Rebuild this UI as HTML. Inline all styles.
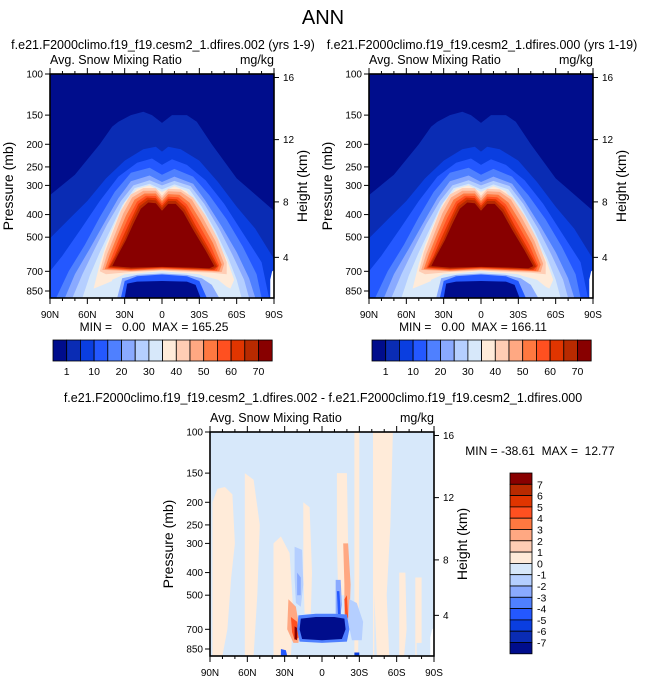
<!DOCTYPE html>
<html><head><meta charset="utf-8">
<style>
html,body{margin:0;padding:0;background:#fff;}
svg{display:block;font-family:"Liberation Sans",sans-serif;}
</style></head>
<body>
<svg id="chart" width="647" height="680" viewBox="0 0 647 680" xmlns="http://www.w3.org/2000/svg">
<text x="323" y="24" font-size="20" text-anchor="middle">ANN</text>
<text x="163" y="49" font-size="12.5" text-anchor="middle">f.e21.F2000climo.f19_f19.cesm2_1.dfires.002 (yrs 1-9)</text>
<text x="482" y="49" font-size="12.5" text-anchor="middle">f.e21.F2000climo.f19_f19.cesm2_1.dfires.000 (yrs 1-19)</text>
<text x="323" y="402" font-size="12.5" text-anchor="middle">f.e21.F2000climo.f19_f19.cesm2_1.dfires.002 - f.e21.F2000climo.f19_f19.cesm2_1.dfires.000</text>
<text x="154" y="331" font-size="12" text-anchor="middle" xml:space="preserve">MIN =   0.00  MAX = 165.25</text>
<text x="473" y="331" font-size="12" text-anchor="middle" xml:space="preserve">MIN =   0.00  MAX = 166.11</text>
<text x="540" y="455" font-size="12" text-anchor="middle" xml:space="preserve">MIN = -38.61  MAX =  12.77</text>
</svg>
<script>
// ---- data ----
const pressureTicks = [100,150,200,250,300,400,500,700,850];
const heightTicks = [16,12,8,4];
const heightTickPress = [103.5, 191, 353, 610];
const latTicks = [90,60,30,0,-30,-60,-90];
const latLabels = ["90N","60N","30N","0","30S","60S","90S"];
const absColors = ["#000d8c","#0a2cb4","#0a3ee0","#2458ff","#4f80ff","#8aaaff","#b5cfff","#d7e8fa","#ffebd9","#ffcdb4","#ffa882","#ff7840","#ff5020","#e03500","#b82a00","#880000"];
const absLabels = ["1","10","20","30","40","50","60","70"];
const diffColors = ["#880000","#b82a00","#e03500","#ff5020","#ff7840","#ffa882","#ffcdb4","#ffebd9","#d7e8fa","#b5cfff","#8aaaff","#4f80ff","#2458ff","#0a3ee0","#0a2cb4","#000d8c"];
const diffLabels = ["7","6","5","4","3","2","1","0","-1","-2","-3","-4","-5","-6","-7"];
// contour levels: [colorIndex, openToSurface, polygon of [lat,pressure]]
const absLevels = [
 [1,1,[[90,330],[70,270],[50,200],[40,168],[35,160],[25,150],[15,145],[8,150],[0,162],[-8,150],[-20,150],[-28,160],[-40,200],[-60,280],[-90,385]]],
 [2,1,[[90,505],[75,420],[60,350],[45,280],[30,235],[15,210],[5,205],[0,215],[-5,205],[-15,210],[-30,235],[-45,290],[-60,370],[-75,460],[-90,620]]],
 [3,1,[[90,700],[80,600],[65,460],[50,350],[35,275],[20,240],[8,230],[0,245],[-8,232],[-20,245],[-35,285],[-50,360],[-65,480],[-80,640],[-86,910]]],
 [4,1,[[85,910],[75,700],[62,540],[50,410],[38,320],[25,265],[10,252],[0,270],[-10,255],[-25,275],[-38,330],[-52,420],[-65,550],[-76,720],[-80,910]]],
 [5,1,[[78,910],[70,720],[58,560],[47,440],[35,340],[25,288],[10,272],[0,290],[-10,275],[-25,295],[-35,350],[-48,450],[-60,580],[-70,750],[-75,910]]],
 [6,1,[[72,910],[64,720],[54,560],[44,440],[33,350],[23,300],[10,285],[0,300],[-10,287],[-23,302],[-34,360],[-46,460],[-57,600],[-66,760],[-70,910]]],
 [7,1,[[64,910],[58,730],[50,580],[41,460],[32,365],[22,308],[10,295],[0,312],[-10,297],[-22,312],[-32,370],[-43,470],[-53,610],[-60,760],[-64,910]]],
 [8,0,[[55,830],[50,650],[45,540],[38,440],[30,355],[20,310],[10,300],[0,320],[-10,302],[-20,318],[-30,380],[-42,490],[-52,620],[-58,760],[-55,830],[-40,760],[-30,720],[-15,710],[0,700],[15,710],[30,730],[45,790]]],
 [9,0,[[50,700],[46,580],[40,480],[33,385],[25,328],[15,308],[5,308],[0,332],[-5,310],[-15,312],[-25,338],[-35,405],[-45,510],[-52,640],[-52,720],[-40,710],[-25,705],[0,695],[25,705],[45,720]]],
 [10,0,[[48,690],[44,590],[38,490],[31,395],[24,338],[15,316],[5,316],[0,340],[-5,318],[-15,320],[-24,345],[-33,415],[-43,520],[-50,650],[-48,705],[-25,698],[0,690],[25,700]]],
 [11,0,[[46,685],[42,595],[36,495],[29,405],[22,345],[14,325],[5,325],[0,350],[-5,327],[-14,329],[-22,355],[-31,425],[-41,530],[-48,655],[-46,700],[-25,693],[0,685],[25,695]]],
 [12,0,[[44,680],[40,600],[34,500],[27,412],[20,352],[13,332],[5,333],[0,358],[-5,335],[-13,337],[-20,362],[-29,435],[-39,540],[-46,660],[-44,695],[-25,688],[0,680],[25,690]]],
 [13,0,[[43,675],[38,600],[32,505],[25,420],[19,360],[12,338],[5,340],[0,366],[-5,342],[-12,344],[-19,370],[-27,445],[-37,550],[-45,665],[-42,690],[-25,684],[0,676],[25,686]]],
 [14,0,[[42,670],[37,600],[30,510],[24,428],[18,368],[11,345],[5,348],[0,375],[-5,350],[-11,350],[-18,380],[-26,455],[-36,560],[-44,668],[-40,686],[-25,680],[0,672],[25,682]]],
 [15,0,[[40,665],[35,590],[29,515],[23,438],[17,378],[11,355],[5,358],[0,385],[-5,360],[-11,360],[-17,390],[-25,465],[-35,570],[-42,665],[-38,680],[-25,675],[0,670],[25,675]]],
 [7,1,[[42,910],[40,760],[30,720],[15,712],[0,705],[-15,712],[-30,725],[-45,760],[-55,840],[-60,910]]],
 [5,1,[[36,910],[32,750],[20,725],[0,715],[-20,725],[-32,750],[-40,800],[-46,910]]],
 [3,1,[[33,910],[30,770],[20,735],[0,722],[-20,735],[-30,770],[-36,910]]],
 [0,1,[[30,910],[28,790],[20,775],[0,770],[-20,775],[-27,800],[-31,910]]]
];
const diffLevels = [
 [7,1,[[88,200],[84,175],[78,172],[72,185],[70,300],[73,420],[76,700],[80,910],[88,910]]],
 [7,1,[[62,150],[55,160],[50,250],[52,500],[55,910],[62,910],[60,400]]],
 [7,1,[[39,300],[33,280],[26,330],[23,600],[25,910],[38,910]]],
 [7,1,[[15,200],[10,210],[8,400],[9,600],[14,600],[15,400]]],
 [7,1,[[-12,150],[-20,150],[-21,300],[-19,500],[-13,500],[-12,300]]],
 [7,1,[[-26,100],[-30,100],[-30,400],[-29,910],[-26,910],[-27,400]]],
 [7,1,[[-41,100],[-57,100],[-55,250],[-52,500],[-54,910],[-44,910],[-42,500]]],
 [7,1,[[-62,400],[-67,400],[-68,700],[-66,910],[-62,910]]],
 [7,1,[[-75,420],[-80,420],[-80,800],[-76,800]]],
 [5,0,[[27,520],[21,560],[18,700],[19,800],[23,800],[28,700]]],
 [3,0,[[25,620],[20,650],[19,760],[22,780],[24,720]]],
 [0,0,[[22,680],[20,690],[20,780],[22,770]]],
 [5,0,[[-17,300],[-21,300],[-23,450],[-22,650],[-18,600],[-18,450]]],
 [3,0,[[-18,520],[-20,500],[-21,620],[-19,650]]],
 [9,0,[[22,310],[16,320],[15,450],[17,560],[21,540],[22,420]]],
 [10,0,[[20,400],[17,420],[17,500],[20,500]]],
 [9,0,[[-22,520],[-28,540],[-33,650],[-32,780],[-24,780],[-21,650]]],
 [10,0,[[-11,430],[-15,430],[-16,550],[-14,650],[-11,600]]],
 [12,0,[[-12,480],[-14,480],[-15,600],[-13,640]]],
 [11,0,[[19,610],[5,600],[-10,600],[-20,605],[-22,700],[-20,790],[0,800],[18,790],[20,700]]],
 [15,0,[[17,630],[5,620],[-10,620],[-18,630],[-19,700],[-16,770],[0,780],[16,770],[18,700]]],
 [12,1,[[33,850],[29,860],[28,910],[33,910]]],
 [13,1,[[-26,880],[-30,880],[-30,910],[-26,910]]]
];
const panels = [
 {name:"left-snow-panel", x0:50, y0:74, levels:absLevels, bg:absColors[0]},
 {name:"right-snow-panel", x0:369, y0:74, levels:absLevels, bg:absColors[0]},
 {name:"diff-snow-panel", x0:210, y0:432, levels:diffLevels, bg:diffColors[8]}
];
// ---- drawing ----
const NS="http://www.w3.org/2000/svg";
const svg=document.getElementById('chart');
const W=224, H=224, PK=101.4, PBOT=100*Math.exp(H/PK);
function xs(p,lat){return p.x0+(90-lat)/180*W;}
function ys(p,pr){return p.y0+PK*Math.log(Math.min(pr,PBOT)/100);}
function mk(tag,attrs,parent){const e=document.createElementNS(NS,tag);for(const k in attrs)e.setAttribute(k,attrs[k]);(parent||svg).appendChild(e);return e;}
function txt(x,y,s,size,anchor,parent){const t=mk('text',{x:x,y:y,'font-size':size,'text-anchor':anchor},parent);t.textContent=s;return t;}
const defs=mk('defs',{});
panels.forEach((p,pi)=>{
  const cp=mk('clipPath',{id:'clip'+pi},defs);
  mk('rect',{x:p.x0,y:p.y0,width:W,height:H},cp);
  const g=mk('g',{'clip-path':'url(#clip'+pi+')'});
  
  
  const bg=mk('rect',{x:p.x0,y:p.y0,width:W,height:H,fill:p.bg},g);
  
  
  p.levels.forEach((lv,li)=>{
    let pts=lv[2].slice();
    if(lv[1]){pts.push([pts[pts.length-1][0],1000]);pts.push([pts[0][0],1000]);}
    const d=pts.map(q=>xs(p,q[0]).toFixed(1)+','+ys(p,q[1]).toFixed(1)).join(' ');
    const c=(p.levels===absLevels?absColors:diffColors)[lv[0]];
    const poly=mk('polygon',{points:d,fill:c},g);
    
    
  });
  const miss=[[-87,1000],[-87,760],[-88.5,700],[-90,690],[-90,1000]];
  const wm=mk('polygon',{points:miss.map(q=>xs(p,q[0])+','+ys(p,q[1])).join(' '),fill:'#fff'},g);
  
  
  const ax=mk('g',{});
  
  
  mk('rect',{x:p.x0,y:p.y0,width:W,height:H,fill:'none',stroke:'#000','stroke-width':1.6},ax);
  txt(p.x0,p.y0-10,'Avg. Snow Mixing Ratio',12.5,'start',ax);
  txt(p.x0+W,p.y0-10,'mg/kg',12.5,'end',ax);
  pressureTicks.forEach(pr=>{const y=ys(p,pr);
    mk('line',{x1:p.x0-5,x2:p.x0,y1:y,y2:y,stroke:'#000','stroke-width':1},ax);
    txt(p.x0-7,y+3.5,String(pr),10,'end',ax);});
  heightTicks.forEach((h,i)=>{const y=ys(p,heightTickPress[i]);
    mk('line',{x1:p.x0+W,x2:p.x0+W+5,y1:y,y2:y,stroke:'#000','stroke-width':1},ax);
    txt(p.x0+W+9,y+3.5,String(h),10,'start',ax);});
  for(let lat=90;lat>=-90;lat-=10){const x=xs(p,lat);const big=lat%30===0;
    mk('line',{x1:x,x2:x,y1:p.y0+H,y2:p.y0+H+(big?6:3),stroke:'#000','stroke-width':1},ax);
    mk('line',{x1:x,x2:x,y1:p.y0,y2:p.y0-(big?6:3),stroke:'#000','stroke-width':1},ax);}
  latTicks.forEach((lat,i)=>txt(xs(p,lat),p.y0+H+20,latLabels[i],10,'middle',ax));
  const yl=txt(0,0,'Pressure (mb)',14,'middle',ax);
  yl.setAttribute('transform','translate('+(p.x0-37)+','+(p.y0+H/2)+') rotate(-90)');
  const hl=txt(0,0,'Height (km)',14,'middle',ax);
  hl.setAttribute('transform','translate('+(p.x0+W+33)+','+(p.y0+H/2)+') rotate(-90)');
});
[50,369].forEach((x0,ci)=>{
  const g=mk('g',{});
  
  
  const bw=13.7;
  absColors.forEach((c,i)=>mk('rect',{x:x0+3+i*bw,y:340,width:bw,height:21,fill:c,stroke:'#000','stroke-width':0.8},g));
  absLabels.forEach((s,i)=>txt(x0+3+(1+2*i)*bw,375,s,10.5,'middle',g));
});
{
  const g=mk('g',{});
  
  
  const bh=11.3;
  diffColors.forEach((c,i)=>mk('rect',{x:510,y:473+i*bh,width:22,height:bh,fill:c,stroke:'#000','stroke-width':0.8},g));
  diffLabels.forEach((s,i)=>txt(537,473+(i+1)*bh+4,s,10.5,'start',g));
}
</script>
</body></html>
